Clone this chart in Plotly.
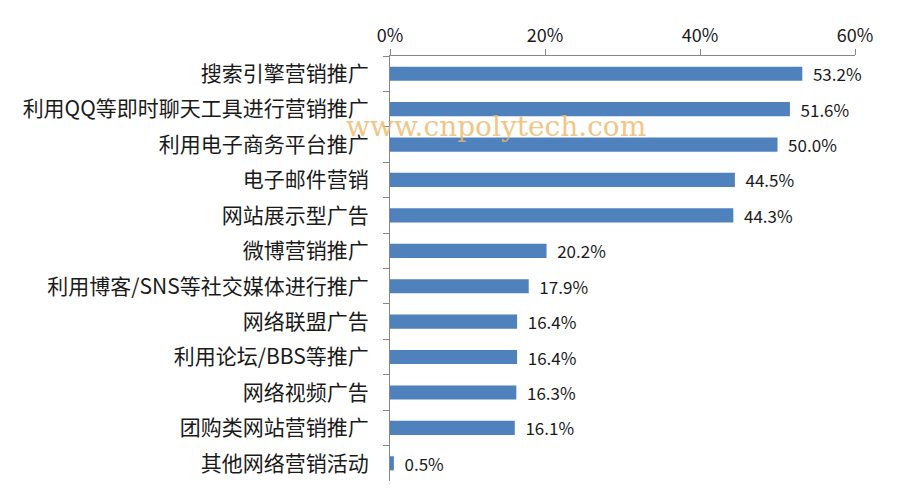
import plotly.graph_objects as go

categories = ["搜索引擎营销推广", "利用QQ等即时聊天工具进行营销推广", "利用电子商务平台推广",
              "电子邮件营销", "网站展示型广告", "微博营销推广", "利用博客/SNS等社交媒体进行推广",
              "网络联盟广告", "利用论坛/BBS等推广", "网络视频广告", "团购类网站营销推广", "其他网络营销活动"]
values = [0.532, 0.516, 0.500, 0.445, 0.443, 0.202, 0.179, 0.164, 0.164, 0.163, 0.161, 0.005]
tick_vals = [0, 0.2, 0.4, 0.6]
tick_text = ["0%", "20%", "40%", "60%"]

font_family = "Noto Sans CJK SC, Noto Sans, sans-serif"

# page body has 8px default margin; compensate so plot area lands at x 390-855, y 56-481
L, R, T, B = 390 - 8, 906 - 855 + 8, 56 - 8, 494 - 481 + 8

fig = go.Figure(go.Bar(
    x=values, y=categories, orientation="h",
    marker=dict(color="#4F81BD", line=dict(width=0)),
    text=[f"\u00a0\u00a0{v*100:.1f}%" for v in values],
    textposition="outside", cliponaxis=False, constraintext="none",
    textfont=dict(size=17, color="#1a1a1a", family=font_family),
))

fig.update_layout(
    width=906, height=494,
    margin=dict(l=L, r=R, t=T, b=B, autoexpand=False),
    plot_bgcolor="white", paper_bgcolor="white",
    bargap=0.6, showlegend=False,
    font=dict(family=font_family, color="#1a1a1a"),
)
fig.update_xaxes(
    side="top", range=[0, 0.6], tickvals=tick_vals, ticktext=tick_text,
    showgrid=False, zeroline=False, showline=True, linecolor="#868686", linewidth=1,
    ticks="outside", ticklen=6, tickcolor="#868686",
    tickfont=dict(size=18, color="#1a1a1a"), automargin=False,
)
fig.update_yaxes(
    categoryorder="array", categoryarray=categories, autorange="reversed",
    showgrid=False, showline=True, linecolor="#868686", linewidth=1,
    ticks="outside", ticklen=6, tickcolor="#868686", tickson="boundaries",
    tickfont=dict(size=21, color="#1a1a1a"), ticklabelstandoff=16, automargin=False,
)
pw = 906 - L - R
ph = 494 - T - B
fig.add_annotation(
    text="www.cnpolytech.com", xref="paper", yref="paper",
    x=(496 - 390) / pw, y=1 - (127 - 56) / ph, xanchor="center", yanchor="middle",
    showarrow=False, font=dict(family="DejaVu Serif, serif", size=28, color="#EDB86A"),
    opacity=0.8,
)

fig.write_html("out.html")
